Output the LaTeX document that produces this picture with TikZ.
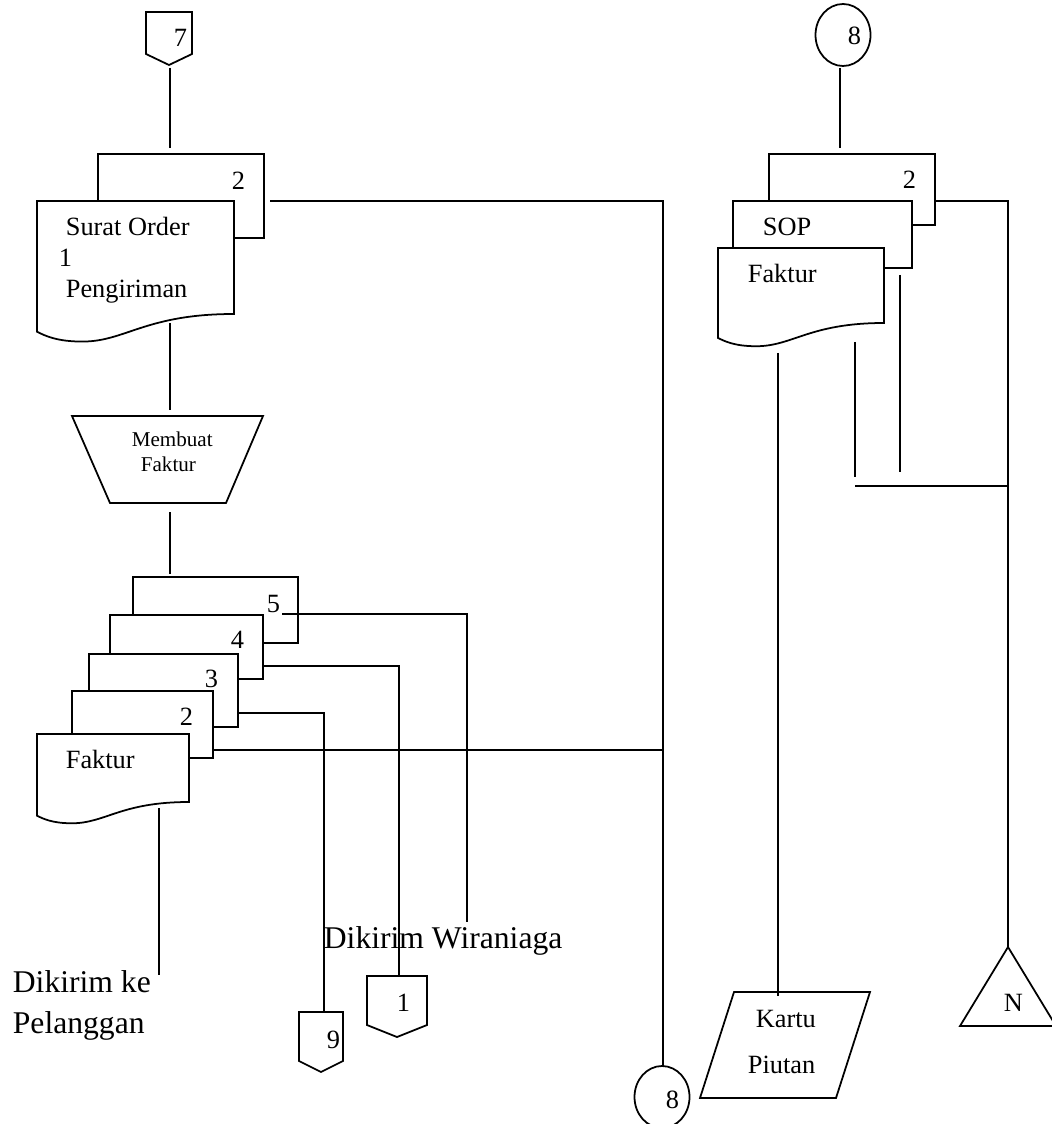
\documentclass[tikz,border=0pt]{standalone}
\usepackage{fontspec}
\setmainfont{Liberation Serif}
\usetikzlibrary{calc}

% front sheet with wavy foot: left, top, right, foot (right side)
\newcommand{\docfront}[4]{%
  \pgfmathsetmacro{\docw}{#3-#1}%
  \draw (#3,#4) .. controls ({#1+0.55*\docw},#4) and ({#1+0.45*\docw},{#4+0.14*\docw})
      .. ({#1+0.23*\docw},{#4+0.14*\docw})
      .. controls ({#1+0.1*\docw},{#4+0.14*\docw}) and ({#1+0.04*\docw},{#4+0.11*\docw})
      .. (#1,{#4+0.09*\docw}) -- (#1,#2) -- (#3,#2) -- cycle;}
% copy behind: left, top, right, foot, right of sheet in front, top of sheet in front
\newcommand{\docback}[6]{%
  \draw (#1,#6) |- (#3,#2) |- (#5,#4);}
% off-page connector: centre x, top, half width, side foot, tip
\newcommand{\offpage}[5]{%
  \draw ({#1-#3},#2) -- ({#1+#3},#2) -- ({#1+#3},#4) -- (#1,#5) -- ({#1-#3},#4) -- cycle;}

\begin{document}
\begin{tikzpicture}[x=0.02cm, y=-0.02cm, line width=1pt,
  lbl/.style={inner sep=0pt, anchor=base west, font=\fontsize{15}{18}\selectfont},
  big/.style={inner sep=0pt, anchor=base west, font=\fontsize{18}{21}\selectfont},
  small/.style={inner sep=0pt, anchor=base west, font=\fontsize{12}{14}\selectfont}]
  \useasboundingbox (0,0) rectangle (1051,1124);

  % ---- left: connector 7 and surat order pengiriman
  \offpage{169}{12}{23}{54}{65}
  \node[lbl] (n7) at (173,47) {7};
  \coordinate (c7-s) at (170,68);
  \docback{98}{154}{264}{238}{234}{201}
  \node[lbl] (so2) at (231,190) {2};
  \docfront{37}{201}{234}{314}
  \node[lbl] (so) at (65,236) {Surat Order};
  \node[lbl] (so1) at (58,267) {1};
  \node[lbl] (so3) at (65,298) {Pengiriman};
  \coordinate (so-n) at (170,148);
  \coordinate (so-e) at (270,201);
  \coordinate (so-s) at (170,323);
  \draw (c7-s) -- (so-n);

  % manual process
  \draw (72,416) -- (263,416) -- (226,503) -- (110,503) -- cycle;
  \node[small] (mf1) at (131,446) {Membuat};
  \node[small] (mf2) at (140,471) {Faktur};
  \coordinate (mf-n) at (170,410);
  \coordinate (mf-s) at (170,512);
  \draw (so-s) -- (mf-n);

  % faktur, five copies
  \foreach \xl/\yt/\xr/\yb/\xf/\yf/\lx/\ly/\num in
      {133/577/298/643/263/615/266/612/5, 110/615/263/679/238/654/230/648/4,
       89/654/238/727/213/691/204/687/3, 72/691/213/758/189/734/179/725/2}{
    \docback{\xl}{\yt}{\xr}{\yb}{\xf}{\yf}
    \node[lbl] (fk\num) at (\lx,\ly) {\num};
  }
  \docfront{37}{734}{189}{802}
  \node[lbl] (fk1) at (65,768) {Faktur};
  \coordinate (fk-n) at (170,574);
  \draw (mf-s) -- (fk-n);

  % where the copies go
  \coordinate (fk5-e) at (282,614);
  \coordinate (fk4-e) at (263,666);
  \coordinate (fk3-e) at (238,713);
  \coordinate (fk2-e) at (213,750);
  \coordinate (fk1-s) at (159,808);
  \coordinate (wir) at (467,922);
  \coordinate (plg) at (159,975);
  \node[big] (dw) at (323,948) {Dikirim Wiraniaga};
  \node[big] (dk1) at (12,992) {Dikirim ke};
  \node[big] (dk2) at (12,1033) {Pelanggan};
  \offpage{397}{976}{30}{1025}{1037}
  \node[lbl] (n1) at (396,1011) {1};
  \coordinate (c1-n) at (399,976);
  \offpage{321}{1012}{22}{1061}{1072}
  \node[lbl] (n9) at (326,1048) {9};
  \coordinate (c9-n) at (324,1012);
  \draw (fk5-e) -| (wir);
  \draw (fk4-e) -| (c1-n);
  \draw (fk3-e) -| (c9-n);
  \draw (fk1-s) -- (plg);

  % connector 8 at the foot
  \draw (662,1097) ellipse [x radius=27.5, y radius=31];
  \node[lbl] (n8b) at (665,1108) {8};
  \coordinate (c8b-n) at (663,1066);
  \coordinate (jn) at (663,750);
  \draw (so-e) -| (c8b-n);
  \draw (fk2-e) -- (jn);

  % ---- right: connector 8, sop and faktur
  \draw (843,35) ellipse [x radius=27.5, y radius=31];
  \node[lbl] (n8a) at (847,45) {8};
  \coordinate (c8a-s) at (840,68);
  \docback{769}{154}{935}{225}{912}{201}
  \node[lbl] (sp2) at (902,189) {2};
  \docback{733}{201}{912}{268}{884}{248}
  \node[lbl] (sop) at (762,236) {SOP};
  \docfront{718}{248}{884}{323}
  \node[lbl] (fr) at (747,283) {Faktur};
  \coordinate (sp-n) at (840,148);
  \coordinate (sp2-e) at (935,201);
  \draw (c8a-s) -- (sp-n);

  % file N and kartu piutang
  \draw (1008,947) -- (1056,1026) -- (960,1026) -- cycle;
  \node[lbl] (nN) at (1003,1011) {N};
  \coordinate (arN) at (1008,947);
  \draw (734,992) -- (870,992) -- (836,1098) -- (700,1098) -- cycle;
  \node[lbl] (kp1) at (755,1027) {Kartu};
  \node[lbl] (kp2) at (747,1073) {Piutan};
  \coordinate (kp-n) at (778,996);
  \coordinate (fr-s) at (778,353);
  \draw (sp2-e) -| (arN);
  \draw (fr-s) -- (kp-n);

  \coordinate (sop-a) at (900,275);
  \coordinate (sop-b) at (900,472);
  \coordinate (fr-a) at (855,342);
  \coordinate (fr-b) at (855,477);
  \coordinate (jr-w) at (855,486);
  \coordinate (jr-e) at (1008,486);
  \draw (sop-a) -- (sop-b);
  \draw (fr-a) -- (fr-b);
  \draw (jr-w) -- (jr-e);
\end{tikzpicture}
\end{document}
